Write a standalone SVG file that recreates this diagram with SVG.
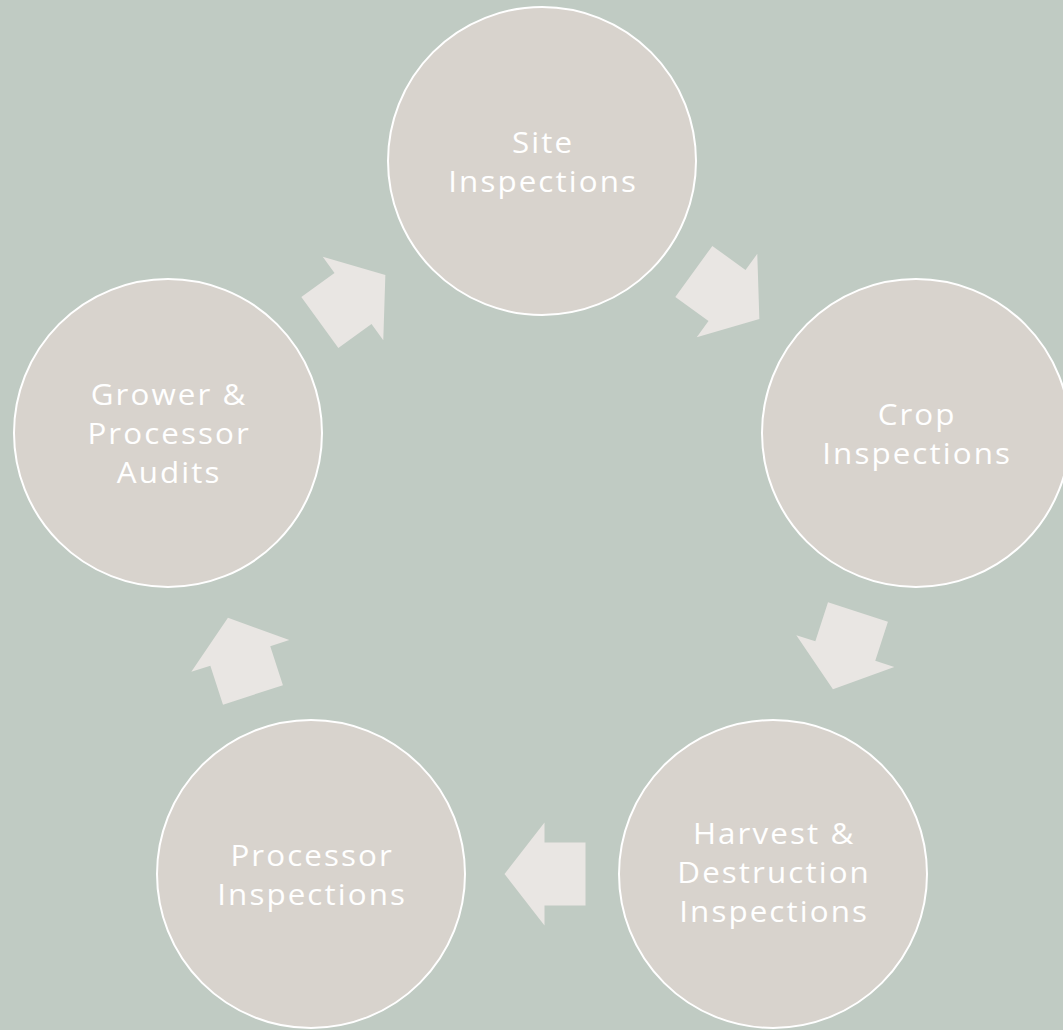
<svg xmlns="http://www.w3.org/2000/svg" width="1063" height="1030" viewBox="0 0 1063 1030">
<style>
.node{fill:#d8d3cd;stroke:#ffffff;stroke-width:2}
.lbl{font-family:"Open Sans","Liberation Sans",sans-serif;font-weight:400;font-size:28.5px;letter-spacing:1.9px;fill:#ffffff;text-anchor:middle}
.arrow{fill:#e9e6e3}
</style>
<defs>
<polygon id="arr" points="-41,-31.5 0,-31.5 0,-51.5 40,0 0,51.5 0,31.5 -41,31.5"/>
</defs>
<rect width="1063" height="1030" fill="#c0cbc3"/>
<g id="connectors" class="arrow">
<use href="#arr" transform="translate(727,295.5) rotate(36)"/>
<use href="#arr" transform="translate(845.3,651.1) rotate(108)"/>
<use href="#arr" transform="translate(544.5,874) rotate(180)"/>
<use href="#arr" transform="translate(240.3,655.9) rotate(252)"/>
<use href="#arr" transform="translate(353,298.5) rotate(-36)"/>
</g>
<g id="site">
<circle class="node" cx="542" cy="161" r="154"/>
<g transform="translate(542,0) scale(1.1,1)">
<text class="lbl" x="1" y="153">Site</text>
<text class="lbl" x="1" y="192">Inspections</text>
</g>
</g>
<g id="crop">
<circle class="node" cx="916" cy="433" r="154"/>
<g transform="translate(916,0) scale(1.1,1)">
<text class="lbl" x="1" y="425">Crop</text>
<text class="lbl" x="1" y="464">Inspections</text>
</g>
</g>
<g id="harvest">
<circle class="node" cx="773" cy="874" r="154"/>
<g transform="translate(773,0) scale(1.1,1)">
<text class="lbl" x="1" y="844">Harvest &amp;</text>
<text class="lbl" x="1" y="883">Destruction</text>
<text class="lbl" x="1" y="922">Inspections</text>
</g>
</g>
<g id="processor">
<circle class="node" cx="311" cy="874" r="154"/>
<g transform="translate(311,0) scale(1.1,1)">
<text class="lbl" x="1" y="866">Processor</text>
<text class="lbl" x="1" y="905">Inspections</text>
</g>
</g>
<g id="grower">
<circle class="node" cx="168" cy="433" r="154"/>
<g transform="translate(168,0) scale(1.1,1)">
<text class="lbl" x="1" y="405">Grower &amp;</text>
<text class="lbl" x="1" y="444">Processor</text>
<text class="lbl" x="1" y="483">Audits</text>
</g>
</g>
</svg>
